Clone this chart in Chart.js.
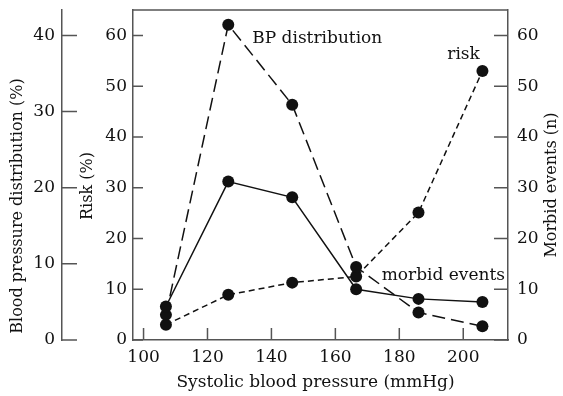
<!DOCTYPE html>
<html>
<head>
<meta charset="utf-8">
<script src="https://cdn.jsdelivr.net/npm/chart.js@4.4.1/dist/chart.umd.min.js"></script>
<style>
  html, body { margin: 0; padding: 0; background: #fff; }
  #wrap { width: 563px; height: 396px; }
</style>
</head>
<body>
<div id="wrap"><canvas id="bpChart"></canvas></div>
<script>
// values
const systolic = [107, 126.5, 146.5, 166.5, 186, 206];
const bpDistribution = [3.3, 41.4, 30.9, 9.6, 3.6, 1.8];
const riskPct = [3.0, 8.9, 11.3, 12.5, 25.1, 53.0];
const morbidEvents = [6.6, 31.2, 28.1, 10.0, 8.1, 7.5];

const xTicksStep = 20;
const yTicksStep = 10;

const FONT = "DejaVu Serif";
const INK = "#111";
const FRAME = "#555";

const toPoints = (ys) => systolic.map((x, i) => ({ x: x, y: ys[i] }));

// fixed box sizes, and no extra padding for half tick labels
const fixWidth = (w) => (scale) => {
  scale.width = w;
  scale.paddingTop = 0;
  scale.paddingBottom = 0;
};

// tick marks pointing into the plot, top frame line, titles and labels
const decorPlugin = {
  id: "decor",
  beforeDatasetsDraw(chart) {
    const { ctx, chartArea: area, scales } = chart;
    ctx.save();
    ctx.strokeStyle = FRAME;
    ctx.lineWidth = 1.5;
    ctx.beginPath();
    ctx.moveTo(area.left, area.top);
    ctx.lineTo(area.right, area.top);
    scales.x.ticks.forEach((t) => {
      const px = scales.x.getPixelForValue(t.value);
      ctx.moveTo(px, area.bottom);
      ctx.lineTo(px, area.bottom - 12);
    });
    scales.yRisk.ticks.forEach((t) => {
      const py = scales.yRisk.getPixelForValue(t.value);
      ctx.moveTo(area.left, py);
      ctx.lineTo(area.left + 10, py);
    });
    scales.yMorbid.ticks.forEach((t) => {
      const py = scales.yMorbid.getPixelForValue(t.value);
      ctx.moveTo(area.right, py);
      ctx.lineTo(area.right - 14, py);
    });
    const bpX = scales.yBP.right;
    scales.yBP.ticks.forEach((t) => {
      const py = scales.yBP.getPixelForValue(t.value);
      ctx.moveTo(bpX, py);
      ctx.lineTo(bpX + 15, py);
    });
    ctx.stroke();
    ctx.restore();
  },
  afterDraw(chart) {
    const { ctx, chartArea: area, scales } = chart;
    ctx.save();
    ctx.fillStyle = INK;
    ctx.textAlign = "center";
    ctx.textBaseline = "middle";
    ctx.font = "16px '" + FONT + "'";

    const vTitle = (text, x, y) => {
      ctx.save();
      ctx.translate(x, y);
      ctx.rotate(-Math.PI / 2);
      ctx.fillText(text, 0, 0);
      ctx.restore();
    };
    vTitle("Blood pressure distribution (%)", 18, area.top + 196);
    vTitle("Risk (%)", scales.yRisk.left + 26, area.top + 176);
    vTitle("Morbid events (n)", area.right + 44, area.top + 175);
    ctx.font = "17px '" + FONT + "'";
    ctx.fillText("Systolic blood pressure (mmHg)", (area.left + area.right) / 2 - 5, area.bottom + 43);

    // series labels, anchored in data space
    ctx.textAlign = "left";
    ctx.fillText("BP distribution", scales.x.getPixelForValue(134), scales.yRisk.getPixelForValue(59.4));
    ctx.textAlign = "right";
    ctx.fillText("risk", scales.x.getPixelForValue(205.2), scales.yRisk.getPixelForValue(56.3));
    ctx.textAlign = "left";
    ctx.fillText("morbid events", scales.x.getPixelForValue(174.5), scales.yRisk.getPixelForValue(12.6));
    ctx.restore();
  },
};

document.addEventListener("DOMContentLoaded", function () {
  const lineSet = (data, axis, dash) => ({
    data: data,
    yAxisID: axis,
    borderColor: INK,
    borderWidth: 1.5,
    borderDash: dash,
    pointRadius: 6,
    pointHoverRadius: 6,
    pointBackgroundColor: INK,
    pointBorderColor: INK,
    pointBorderWidth: 0,
    tension: 0,
    fill: false,
  });

  const tickFont = { family: FONT, size: 17 };

  new Chart(document.getElementById("bpChart"), {
    type: "line",
    data: {
      datasets: [
        lineSet(toPoints(morbidEvents), "yMorbid", []),
        lineSet(toPoints(bpDistribution), "yBP", [13, 6]),
        lineSet(toPoints(riskPct), "yRisk", [6, 4]),
      ],
    },
    options: {
      responsive: true,
      maintainAspectRatio: false,
      animation: false,
      layout: { padding: { top: 10, left: 0, right: 0, bottom: 0 } },
      plugins: {
        legend: { display: false },
        tooltip: { enabled: false },
      },
      scales: {
        x: {
          type: "linear",
          position: "bottom",
          min: 96.7,
          max: 214,
          afterFit: (s) => {
            s.height = 56;
            s.paddingLeft = 0;
            s.paddingRight = 0;
          },
          grid: { display: false, drawTicks: false },
          border: { display: true, color: FRAME, width: 1.5 },
          ticks: {
            stepSize: xTicksStep,
            includeBounds: false,
            padding: 7,
            color: INK,
            font: tickFont,
            maxRotation: 0,
          },
        },
        yBP: {
          type: "linear",
          position: "left",
          weight: 2,
          min: 0,
          max: 43.333,
          afterFit: fixWidth(62),
          grid: { display: false, drawTicks: false },
          border: { display: true, color: FRAME, width: 1.5 },
          ticks: {
            stepSize: yTicksStep,
            includeBounds: false,
            padding: 7,
            color: INK,
            font: tickFont,
          },
        },
        yRisk: {
          type: "linear",
          position: "left",
          weight: 1,
          min: 0,
          max: 65,
          afterFit: fixWidth(71),
          grid: { display: false, drawTicks: false },
          border: { display: true, color: FRAME, width: 1.5 },
          ticks: {
            stepSize: yTicksStep,
            includeBounds: false,
            padding: 6,
            color: INK,
            font: tickFont,
          },
        },
        yMorbid: {
          type: "linear",
          position: "right",
          min: 0,
          max: 65,
          afterFit: fixWidth(55),
          grid: { display: false, drawTicks: false },
          border: { display: true, color: FRAME, width: 1.5 },
          ticks: {
            stepSize: yTicksStep,
            includeBounds: false,
            padding: 9,
            color: INK,
            font: tickFont,
          },
        },
      },
    },
    plugins: [decorPlugin],
  });
});
</script>
</body>
</html>
